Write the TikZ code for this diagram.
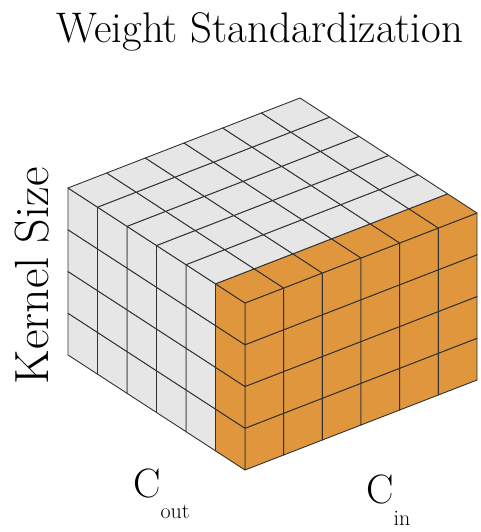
\documentclass[tikz,border=0pt]{standalone}
\definecolor{cellgray}{RGB}{230,230,230}
\definecolor{cellorange}{RGB}{224,150,60}
\definecolor{cellline}{RGB}{50,50,50}
\tikzset{
  graycell/.style={fill=cellgray, draw=cellline, line width=0.9pt, line join=round},
  orangecell/.style={fill=cellorange, draw=cellline, line width=0.9pt, line join=round},
  titletext/.style={inner sep=0pt, font=\fontsize{42.8}{43}\selectfont},
  sidetext/.style={inner sep=0pt, font=\fontsize{48}{48}\selectfont},
  labeltext/.style={inner sep=0pt},
}
\begin{document}
\begin{tikzpicture}[x=1pt,y=1pt]
\useasboundingbox (0,0) rectangle (480,-532);
\begin{scope}[shift={(245,-470)}, x={(38.67pt,15pt)}, y={(0pt,41.75pt)}, z={(-29.5pt,19.17pt)}]
  % front face (orange)
  \foreach \i in {0,...,5}{
    \foreach \j in {0,...,3}{
      \filldraw[orangecell] (\i,\j,0) -- (\i+1,\j,0) -- (\i+1,\j+1,0) -- (\i,\j+1,0) -- cycle;
    }
  }
  % left face
  \foreach \k in {0,...,5}{
    \foreach \j in {0,...,3}{
      \ifnum\k=0
        \filldraw[orangecell] (0,\j,\k) -- (0,\j+1,\k) -- (0,\j+1,\k+1) -- (0,\j,\k+1) -- cycle;
      \else
        \filldraw[graycell] (0,\j,\k) -- (0,\j+1,\k) -- (0,\j+1,\k+1) -- (0,\j,\k+1) -- cycle;
      \fi
    }
  }
  % top face
  \foreach \i in {0,...,5}{
    \foreach \k in {0,...,5}{
      \ifnum\k=0
        \filldraw[orangecell] (\i,4,\k) -- (\i+1,4,\k) -- (\i+1,4,\k+1) -- (\i,4,\k+1) -- cycle;
      \else
        \filldraw[graycell] (\i,4,\k) -- (\i+1,4,\k) -- (\i+1,4,\k+1) -- (\i,4,\k+1) -- cycle;
      \fi
    }
  }
\end{scope}
\node[titletext, anchor=base] (title) at (260,-43) {Weight Standardization};
\node[sidetext, anchor=base, rotate=90] (kernel) at (48,-276) {Kernel Size};
\node[labeltext, anchor=base west] (cout) at (133,-497)
  {\fontsize{41}{41}\selectfont C\fontsize{22}{22}\selectfont\raisebox{-21pt}{out}};
\node[labeltext, anchor=base west] (cin) at (366,-503)
  {\fontsize{41}{41}\selectfont C\fontsize{22}{22}\selectfont\raisebox{-22pt}{in}};
\end{tikzpicture}
\end{document}
